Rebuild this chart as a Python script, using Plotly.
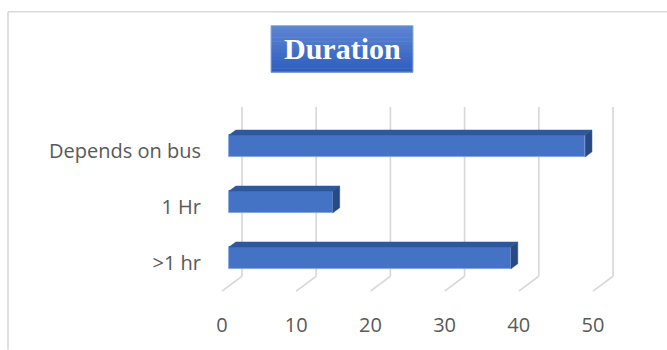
import plotly.graph_objects as go

# ---------------- data ----------------
categories = [">1 hr", "1 Hr", "Depends on bus"]
values = [38, 14, 48]
x_ticks = [0, 10, 20, 30, 40, 50]
title_text = "Duration"

# ---------------- geometry (layout, pixels) ----------------
W, H = 667, 350
PL, PR, PT, PB = 206, 640, 95, 305       # plot area
PXU = 7.42                               # px per value unit
PYU = 56.5                               # px per category step
X0_BAR = 229                             # px of value 0 on bar front plane
Y0_BAR = 259.5                           # px of first category centre, bar front plane
DDX, DDY = 20.0, 15.0                    # full depth offset of the floor (right, up)
BAR_D0, BAR_D1 = 0.35, 0.69              # bar depth (fraction of full depth)
BAR_HALF = 11.0 / PYU
FLOOR_Y = (Y0_BAR - 287.75) / PYU        # floor level on bar front plane
WALL_TOP = (Y0_BAR - 107) / PYU          # top of back-wall gridlines (data y)


def proj(v, y, d):
    """point at value v / plane-y y, moved to depth fraction d"""
    return v + (d - BAR_D0) * DDX / PXU, y + (d - BAR_D0) * DDY / PYU


def fx(px):
    return (px - PL) / (PR - PL)


def fy(py):
    return (PB - py) / (PB - PT)


FRONT = "#4472C4"
TOP = "#30579A"
SIDE = "#284A84"
GRID = "#D9D9D9"

fig = go.Figure()
shapes = []

# gridlines: back wall verticals + floor diagonals (below traces)
for t in x_ticks:
    xb, yb = proj(t, FLOOR_Y, 1.0)
    xf, yf = proj(t, FLOOR_Y, 0.0)
    shapes.append(dict(type="line", xref="x", yref="y", x0=xb, y0=yb, x1=xb, y1=WALL_TOP,
                       line=dict(color=GRID, width=1.7), layer="below"))
    shapes.append(dict(type="line", xref="x", yref="y", x0=xf, y0=yf, x1=xb, y1=yb,
                       line=dict(color=GRID, width=1.7), layer="below"))

# front faces of bars
ypos = list(range(len(categories)))
fig.add_trace(go.Bar(
    x=values, y=ypos, base=0, orientation="h", width=2 * BAR_HALF,
    marker=dict(color=FRONT, line=dict(color="#7F9FDC", width=0.8)),
    xaxis="x", yaxis="y", hoverinfo="skip", showlegend=False,
))

# top and end faces
for yi, v in zip(ypos, values):
    top, bot = yi + BAR_HALF, yi - BAR_HALF
    d = BAR_D1
    p1 = proj(0, top, BAR_D0)
    p2 = proj(v, top, BAR_D0)
    p3 = proj(v, top, d)
    p4 = proj(0, top, d)
    fig.add_trace(go.Scatter(
        x=[p1[0], p2[0], p3[0], p4[0], p1[0]], y=[p1[1], p2[1], p3[1], p4[1], p1[1]],
        mode="lines", fill="toself", fillcolor=TOP, line=dict(color=TOP, width=0.5),
        xaxis="x", yaxis="y", hoverinfo="skip", showlegend=False))
    q1 = proj(v, bot, BAR_D0)
    q2 = proj(v, top, BAR_D0)
    q3 = proj(v, top, d)
    q4 = proj(v, bot, d)
    fig.add_trace(go.Scatter(
        x=[q1[0], q2[0], q3[0], q4[0], q1[0]], y=[q1[1], q2[1], q3[1], q4[1], q1[1]],
        mode="lines", fill="toself", fillcolor=SIDE, line=dict(color=SIDE, width=0.5),
        xaxis="x", yaxis="y", hoverinfo="skip", showlegend=False))

# invisible trace to activate the label axes
fig.add_trace(go.Scatter(x=[x_ticks[0]], y=[0], xaxis="x2", yaxis="y2", mode="markers",
                         marker=dict(opacity=0), hoverinfo="skip", showlegend=False))

# chart frame
shapes.append(dict(type="line", xref="paper", yref="paper", x0=fx(8), y0=fy(11), x1=fx(8), y1=fy(352),
                   line=dict(color=GRID, width=1.6), layer="below"))
shapes.append(dict(type="line", xref="paper", yref="paper", x0=fx(8), y0=fy(11), x1=fx(669), y1=fy(11),
                   line=dict(color=GRID, width=1.6), layer="below"))

# title box with a vertical gradient
bx0, bx1, by0, by1 = 271, 413, 25, 72
n = 12
c_top = (0x5C, 0x84, 0xD3)
c_bot = (0x2F, 0x5F, 0xBE)
for i in range(n):
    f = i / (n - 1)
    c = tuple(int(round(a + (b - a) * f)) for a, b in zip(c_top, c_bot))
    ya = by0 + (by1 - by0) * i / n
    yb = by0 + (by1 - by0) * (i + 1) / n + 0.5
    shapes.append(dict(type="rect", xref="paper", yref="paper",
                       x0=fx(bx0), x1=fx(bx1), y0=fy(yb), y1=fy(ya),
                       fillcolor="rgb(%d,%d,%d)" % c, line=dict(width=0)))
shapes.append(dict(type="rect", xref="paper", yref="paper",
                   x0=fx(bx0), x1=fx(bx1), y0=fy(by1), y1=fy(by0),
                   fillcolor="rgba(0,0,0,0)", line=dict(color="#8FAADC", width=1)))

fig.update_layout(
    width=W, height=H,
    margin=dict(l=PL, r=W - PR, t=PT, b=H - PB, pad=0),
    paper_bgcolor="white", plot_bgcolor="rgba(0,0,0,0)",
    shapes=shapes,
    bargap=0,
    xaxis=dict(range=[(PL - X0_BAR) / PXU, (PR - X0_BAR) / PXU], visible=False, fixedrange=True),
    yaxis=dict(range=[(Y0_BAR - PB) / PYU, (Y0_BAR - PT) / PYU], visible=False, fixedrange=True),
    xaxis2=dict(
        overlaying="x", anchor="y2", side="bottom",
        range=[(PL - (X0_BAR - BAR_D0 * DDX)) / PXU, (PR - (X0_BAR - BAR_D0 * DDX)) / PXU],
        tickvals=x_ticks, ticktext=[str(t) for t in x_ticks],
        showgrid=False, zeroline=False, showline=False, ticks="",
        ticklabelstandoff=8,
        tickfont=dict(family="Open Sans", size=20, color="#595959"),
    ),
    yaxis2=dict(
        overlaying="y", anchor="x2", side="left",
        range=[(Y0_BAR + BAR_D0 * DDY - PB) / PYU, (Y0_BAR + BAR_D0 * DDY - PT) / PYU],
        tickvals=ypos, ticktext=categories,
        showgrid=False, zeroline=False, showline=False, ticks="",
        ticklabelstandoff=4,
        tickfont=dict(family="Open Sans", size=20, color="#595959"),
    ),
    annotations=[dict(
        xref="paper", yref="paper", x=fx((bx0 + bx1) / 2), y=fy((by0 + by1) / 2),
        text="<b>%s</b>" % title_text, showarrow=False, xanchor="center", yanchor="middle",
        font=dict(family="Liberation Serif", size=30, color="white"),
    )],
)

fig.write_html("out.html")
